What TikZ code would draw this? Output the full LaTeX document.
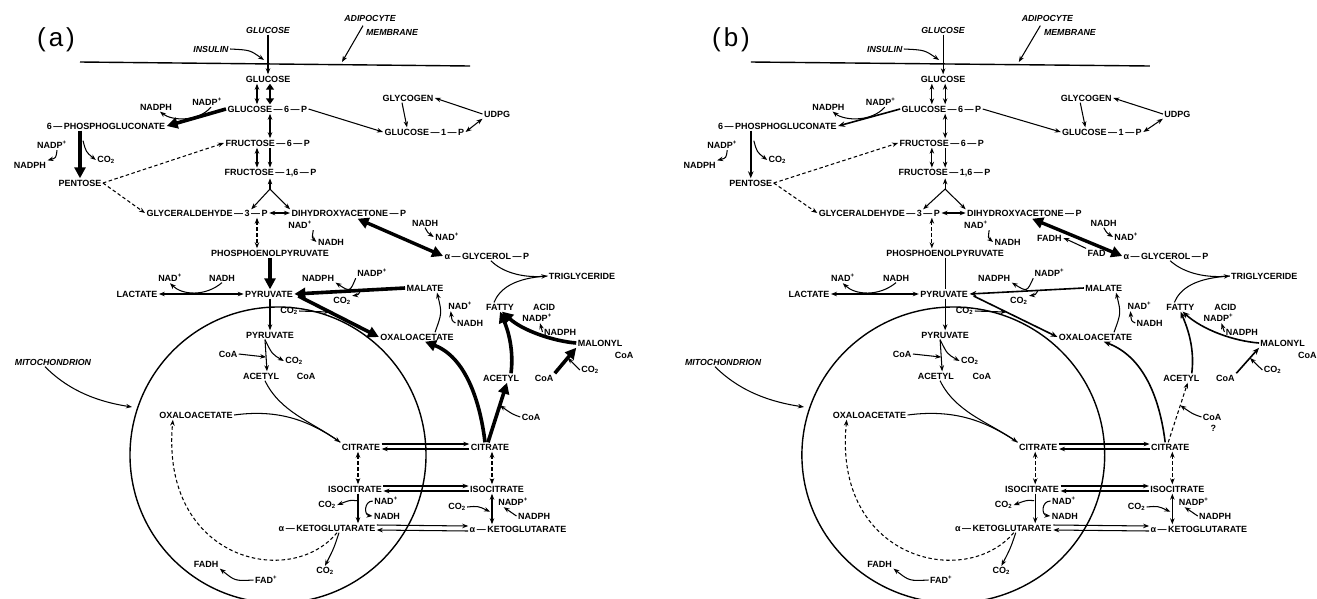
\documentclass[tikz,border=0pt]{standalone}
\usepackage{fontspec}
\setmainfont{Liberation Sans}
\usetikzlibrary{arrows.meta,calc}
\newcommand{\lbf}{\fontsize{9}{10}\selectfont\bfseries}
\newcommand{\itf}{\fontsize{8.8}{10}\selectfont\bfseries\itshape}
\newcommand{\Pl}{\textsuperscript{+}}
\newcommand{\COt}{CO\textsubscript{2}}
\tikzset{
  lb/.style={font=\lbf, inner sep=1pt},
  itl/.style={font=\itf, inner sep=1pt},
  arr/.style={->},
  darr/.style={<->},
  dsh/.style={dash pattern=on 3.5pt off 2.5pt},
  hvdd/.style={line width=3.4pt,{Triangle[length=11pt,width=11pt]}-{Triangle[length=11pt,width=11pt]}},
  memb/.style={line width=1.4pt},
  panellabel/.style={font=\fontsize{26}{28}\selectfont, inner sep=0pt}
}
\newcommand{\panelbody}{%
\coordinate (m1) at (80,62); \coordinate (m2) at (470,66);
\draw[memb] (m1) -- (m2);
\node[itl] (glcout) at (268,30) {GLUCOSE};
\node[itl] (ins) at (211,49) {INSULIN};
\node[itl] (adi) at (370,18) {ADIPOCYTE};
\node[itl] (mem) at (392,32) {MEMBRANE};
\coordinate (mx) at (264,60);
\coordinate (mm) at (342,62);
\node[lb] (glc) at (268,79) {GLUCOSE};
\draw[arr] (glcout.south) -- (glc.north);
\draw[arr] (ins.east) .. controls (250,50) .. (mx);
\draw[arr] ($(adi.south)+(-7,3)$) -- (mm);
\node[lb,anchor=west] (g6p) at (226,109) {GLUCOSE\,—\,6\,—\,P};
\coordinate (cl) at (257,0); \coordinate (cx) at (270,0);
\draw[darr] (cl |- glc.south) -- (cl |- g6p.north);
\draw[hvd] (cx |- glc.south) -- (cx |- g6p.north);
\node[lb] (nadph1) at (156,107) {NADPH};
\node[lb] (nadp1) at (207,102) {NADP\Pl};
\node[lb] (pg) at (106,126) {6\,—\,PHOSPHOGLUCONATE};
\draw[hv] (g6p.west) -- (pg.east);
\draw[arr] ($(nadp1.south)+(4,0)$) .. controls (198,122) and (172,121) .. ($(nadph1.south)+(4,0)$);
\node[lb] (nadp2) at (52,145) {NADP\Pl};
\node[lb] (nadph2) at (30,165) {NADPH};
\node[lb] (co2a) at (106,160) {\COt};
\node[lb] (pent) at (80,183) {PENTOSE};
\draw[hv] (pent.north |- pg.south) -- (pent.north);
\draw[arr] ($(pent.north |- pg.south)+(3,10)$) .. controls (86,152) .. (co2a.west);
\draw[arr] ($(nadp2.south)+(5,0)$) .. controls (56,158) .. (nadph2.north east);
\node[lb,anchor=west] (f6p) at (224,143) {FRUCTOSE\,—\,6\,—\,P};
\node[lb,anchor=west] (f16p) at (223,173) {FRUCTOSE\,—\,1,6\,—\,P};
\draw[arr,dsh] (pent.east) -- (f6p.west);
\node[lb,anchor=west] (gap) at (145,213) {GLYCERALDEHYDE\,—\,3\,—\,P};
\draw[arr,dsh] (pent.east) -- (gap.west);
\draw[darr] (cx |- g6p.south) -- (cx |- f6p.north);
\draw[darr] (cl |- f6p.south) -- (cl |- f16p.north);
\draw[arr] (cx |- f6p.south) -- (cx |- f16p.north);
\node[lb,anchor=west] (dhap) at (290,213) {DIHYDROXYACETONE\,—\,P};
\coordinate (apx) at (270,189);
\draw[arr] (apx) -- (cx |- f16p.south);
\draw[arr] (apx) -- ($(gap.north east)+(-18,1)$);
\draw[arr] (apx) -- ($(dhap.north west)+(0,1)$);
\draw[darr] (gap.east) -- (dhap.west);
\node[lb] (nad1) at (300,225) {NAD\Pl};
\node[lb] (nadh1) at (331,242) {NADH};
\draw[arr] (nad1.south east) .. controls (312,238) .. (nadh1.west);
\node[lb] (pep) at (270,253) {PHOSPHOENOLPYRUVATE};
\draw[darr,dsh] (cl |- gap.south) -- (cl |- pep.north);
\node[lb] (pyr) at (269,294) {PYRUVATE};
\draw[pepst] (cx |- pep.south) -- (cx |- pyr.north);
\node[lb] (lac) at (137,294) {LACTATE};
\draw[darr] (lac.east) -- (pyr.west);
\node[lb] (nad2) at (170,278) {NAD\Pl};
\node[lb] (nadh2) at (222,278) {NADH};
\draw[arr] (nadh2.south) .. controls (205,297) and (182,295) .. (nad2.south);
\node[lb] (pyri) at (270,335) {PYRUVATE};
\draw[arr] (cx |- pyr.south) -- (cx |- pyri.north);
\node[lb] (co2b) at (289,311) {\COt};
\node[lb] (nadph3) at (318,278) {NADPH};
\node[lb] (nadp3) at (372,273) {NADP\Pl};
\node[lb] (mal) at (425,288) {MALATE};
\node[lb] (co2c) at (342,301) {\COt};
\node[lb] (oaa) at (417,337) {OXALOACETATE};
\draw[hv] ($(pyr.east)+(4,2)$) -- (oaa.west);
\draw[arr] (co2b.east) -- ($(pyr.east)!0.42!(oaa.west)$);
\draw[hv] (mal.west) -- (pyr.east);
\draw[arr] (nadp3.south west) .. controls (350,292) .. (nadph3.south east);
\draw[arr] ($(mal.west)!0.4!(pyr.east)$) .. controls (358,295) .. (co2c.north east);
\draw[arr] ($(oaa.north)+(18,0)$) .. controls (442,313) .. ($(mal.south)+(12,0)$);
\node[lb] (nad3) at (460,306) {NAD\Pl};
\node[lb] (nadh3) at (470,323) {NADH};
\draw[arr] (nadh3.west) .. controls (452,321) .. ($(nad3.south west)+(4,0)$);
\node[lb] (nadh4) at (425,223) {NADH};
\node[lb] (nad4) at (447,237) {NAD\Pl};
\draw[arr] (nadh4.south) .. controls (428,233) .. (nad4.west);
\node[lb,anchor=west] (agp) at (443,256) {α\,—\,GLYCEROL\,—\,P};
\draw[hvdd] ($(dhap.south east)+(-50,1)$) -- (agp.west);
\node[lb] (tg) at (582,276) {TRIGLYCERIDE};
\draw[arr] ($(agp.south)+(4,0)$) .. controls (502,272) and (522,278) .. (tg.west);
\node[lb] (fatty) at (500,307) {FATTY};
\node[lb] (acid) at (544,307) {ACID};
\draw ($(fatty.north)+(-6,0)$) .. controls (500,288) and (515,278) .. (tg.west);
\node[lb] (nadp4) at (537,318) {NADP\Pl};
\node[lb] (nadph4) at (560,332) {NADPH};
\draw[arr] (nadph4.west) -- ($(nadp4.south)+(3,0)$);
\node[lb] (malo) at (600,343) {MALONYL};
\node[lb] (coa1) at (624,355) {CoA};
\node[lb] (acet) at (501,378) {ACETYL};
\node[lb] (coa2) at (544,378) {CoA};
\node[lb] (co2d) at (590,370) {\COt};
\draw[hv] (malo.west) .. controls (552,341) and (522,330) .. ($(fatty.south)+(2,0)$);
\draw[hv] ($(acet.north)+(10,0)$) .. controls (514,350) and (508,330) .. (fatty.south);
\draw[hv] (coa2.north east) -- (malo.south west);
\draw[arr] (co2d.west) .. controls (577,367) .. ($(coa2.north east)!0.6!(malo.south west)$);
\node[lb] (cito) at (490,447) {CITRATE};
\node[lb] (coa3) at (531,417) {CoA};
\draw[hv] ($(cito.north)+(-5,0)$) .. controls (480,400) and (465,357) .. ($(oaa.south)+(8,0)$);
\draw[cac] ($(cito.north)+(-2,0)$) -- ($(acet.south)+(6,0)$);
\draw[arr] (coa3.west) .. controls (512,414) .. ($(cito.north)!0.62!(acet.south)+(3,0)$);
\node[itl] (mito) at (53,362) {MITOCHONDRION};
\coordinate (mt) at (132,407);
\draw[arr] ($(mito.south)+(-8,0)$) .. controls (70,392) and (100,402) .. (mt);
\draw[memb] (278,455) circle[radius=148];
\node[lb] (coa4) at (228,354) {CoA};
\node[lb] (co2e) at (294,361) {\COt};
\node[lb] (aceti) at (261,376) {ACETYL};
\node[lb] (coa5) at (306,376) {CoA};
\coordinate (pa1) at ($(pyri.south)+(-5,0)$);
\coordinate (pa2) at ($(aceti.north)+(6,0)$);
\draw[arr] (pa1) -- (pa2);
\draw[arr] (coa4.east) -- ($(pa1)!0.55!(pa2)$);
\draw[arr] (pa1) .. controls (272,354) .. (co2e.west);
\node[lb] (oaai) at (196,415) {OXALOACETATE};
\node[lb] (cit) at (361,447) {CITRATE};
\draw[arr] ($(aceti.south)+(4,0)$) .. controls (280,412) and (312,422) .. (cit.north west);
\draw (oaai.east) .. controls (285,408) and (315,425) .. (cit.north west);
\draw[arr] ($(cit.east)+(0,-3)$) -- ($(cito.west)+(0,-3)$);
\draw[arr] ($(cito.west)+(0,2)$) -- ($(cit.east)+(0,2)$);
\node[lb] (isoi) at (355,489) {ISOCITRATE};
\node[lb] (isoo) at (497,489) {ISOCITRATE};
\draw[darr,dsh] ([xshift=-3pt]cit.south) -- ([xshift=-3pt]cit.south |- isoi.north);
\draw[darr,dsh] ([xshift=2pt]cito.south) -- ([xshift=2pt]cito.south |- isoo.north);
\draw[arr] ($(isoi.east)+(0,-3)$) -- ($(isoo.west)+(0,-3)$);
\draw[arr] ($(isoo.west)+(0,2)$) -- ($(isoi.east)+(0,2)$);
\node[lb] (akgi) at (327,528) {α\,—\,KETOGLUTARATE};
\node[lb] (akgo) at (518,529) {α\,—\,KETOGLUTARATE};
\draw[arr] ([xshift=3pt]isoi.south) -- ([xshift=3pt]isoi.south |- akgi.north);
\node[lb] (co2f) at (327,505) {\COt};
\draw[arr] ($(isoi.south)+(2,7)$) .. controls (350,500) .. (co2f.east);
\node[lb] (nad5) at (386,501) {NAD\Pl};
\node[lb] (nadh5) at (387,516) {NADH};
\draw[arr] (nad5.west) .. controls (364,501) and (364,515) .. (nadh5.west);
\draw[arr] ($(akgi.east)+(0,-3)$) -- ($(akgo.west)+(0,-3)$);
\draw[arr] ($(akgo.west)+(0,2)$) -- ($(akgi.east)+(0,2)$);
\draw[darr] ([xshift=-5pt]isoo.south) -- ([xshift=-5pt]isoo.south |- akgo.north);
\node[lb] (co2g) at (457,507) {\COt};
\draw[arr] (co2g.east) .. controls (478,506) .. ($(isoo.south)+(-7,18)$);
\node[lb] (nadp5) at (513,502) {NADP\Pl};
\node[lb] (nadph5) at (534,516) {NADPH};
\draw[arr] (nadph5.west) -- ($(nadp5.south west)+(7,0)$);
\node[lb] (co2h) at (325,571) {\COt};
\draw[arr] ($(akgi.south)+(12,0)$) .. controls (334,548) .. (co2h.north);
\draw[arr,dsh] ($(akgi.south)+(10,0)$) .. controls (290,590) and (160,560) .. ($(oaai.south west)+(15,0)$);
\node[lb] (fadh) at (206,564) {FADH};
\node[lb] (fad) at (266,580) {FAD\Pl};
\draw[arr] (fad.west) .. controls (235,581) .. (fadh.south east);
\node[lb] (glyc) at (408,98) {GLYCOGEN};
\node[lb] (udpg) at (497,114) {UDPG};
\node[lb,anchor=west] (g1p) at (383,132) {GLUCOSE\,—\,1\,—\,P};
\draw[arr] (g6p.east) -- (g1p.west);
\draw[arr] ($(glyc.south)+(-6,0)$) -- ($(g1p.north west)+(24,0)$);
\draw[arr] (udpg.west) -- (glyc.east);
\draw[darr] (g1p.east) -- (udpg.south west);
}
\begin{document}
\begin{tikzpicture}[x=1pt,y=-1pt,line width=1.05pt,>={Stealth[length=6pt,width=4.5pt]}]
\useasboundingbox (0,0) rectangle (1317,598);
\node[panellabel] (la) at (56,40) {(\hspace{3pt}a\hspace{3pt})};
\node[panellabel] (lbb) at (731,40) {(\hspace{3pt}b\hspace{3pt})};
\begin{scope}[name prefix=a-,
  hv/.style={line width=3.6pt,-{Triangle[length=11pt,width=11pt]}},
  hvd/.style={line width=2.8pt,{Triangle[length=6pt,width=8pt]}-{Triangle[length=6pt,width=8pt]}},
  pepst/.style={hv},
  cac/.style={hv}]
\panelbody
\end{scope}
\begin{scope}[name prefix=b-, shift={(668.9,0)}, xscale=1.023,
  hv/.style={line width=1.6pt,-{Stealth[length=7pt,width=5.5pt]}},
  hvd/.style={darr},
  pepst/.style={line width=1.1pt},
  cac/.style={arr,dsh}]
\panelbody
\node[lb] (fadh2) at (372,238) {FADH};
\node[lb] (fad2) at (418,253) {FAD};
\draw[arr] (fad2.north west) .. controls (398,243) .. (fadh2.east);
\node[lb] (qm) at ($(coa3.south)+(1,7)$) {?};
\end{scope}
\end{tikzpicture}
\end{document}
